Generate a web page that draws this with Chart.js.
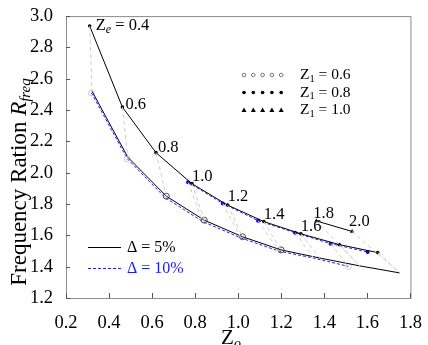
<!DOCTYPE html>
<html>
<head>
<meta charset="utf-8">
<script src="https://cdn.jsdelivr.net/npm/chart.js@4.4.0/dist/chart.umd.min.js"></script>
<style>
  html, body { margin: 0; padding: 0; background: #fff; }
  #wrap { width: 428px; height: 345px; }
</style>
</head>
<body>
<div id="wrap"><canvas id="chart" width="428" height="345"></canvas></div>
<script>
// upper curve, Delta = 5% (black, dots)
const zoUpper = [0.31, 0.462, 0.618, 0.785, 0.951, 1.119, 1.291, 1.469, 1.648];
const rUpper = [2.937, 2.419, 2.128, 1.930, 1.793, 1.688, 1.610, 1.541, 1.490];
// upper curve, Delta = 10% (blue, dots)
const zoUpperBlue = [0.767, 0.928, 1.092, 1.264, 1.429, 1.601];
const rUpperBlue = [1.939, 1.804, 1.694, 1.617, 1.547, 1.494];
// lower curve, Delta = 5% (black, open circles)
const zoLower = [0.321, 0.487, 0.666, 0.842, 1.020, 1.199, 1.38, 1.565, 1.751];
const rLower = [2.52, 2.099, 1.850, 1.697, 1.591, 1.507, 1.455, 1.405, 1.360];
// lower curve, Delta = 10% (blue dashed)
const zoLowerBlue = [0.318, 0.484, 0.660, 0.835, 1.012, 1.190, 1.35, 1.512];
const rLowerBlue = [2.51, 2.09, 1.842, 1.688, 1.584, 1.499, 1.455, 1.402];
// short segment, triangles
const zoTri = [1.363, 1.529];
const rTri = [1.692, 1.625];
// Ze labels
const zeLabels = ["0.4", "0.6", "0.8", "1.0", "1.2", "1.4", "1.6", "1.8", "2.0"];
const xTicks = [0.2, 0.4, 0.6, 0.8, 1.0, 1.2, 1.4, 1.6, 1.8];
const yTicks = [1.2, 1.4, 1.6, 1.8, 2.0, 2.2, 2.4, 2.6, 2.8, 3.0];

const SERIF = "'Liberation Serif', 'Times New Roman', serif";

function pts(xs, ys)
{
   return xs.map(function(x, i) { return { x: x, y: ys[i] }; });
}

// gray dashed connectors between matching points of upper and lower curves
function connectors()
{
   const sets = [];
   const add = function(a, b)
   {
      sets.push({
         data: [a, b],
         showLine: true,
         borderColor: "#cfcfcf",
         borderWidth: 1,
         borderDash: [4, 3],
         pointRadius: 0,
      });
   };
   zoUpper.forEach(function(x, i)
   {
      add({ x: x, y: rUpper[i] }, { x: zoLower[i], y: rLower[i] });
   });
   zoUpperBlue.forEach(function(x, i)
   {
      if (i + 3 < zoLowerBlue.length)
      {
         add({ x: x, y: rUpperBlue[i] }, { x: zoLowerBlue[i + 3], y: rLowerBlue[i + 3] });
      }
   });
   add({ x: zoTri[0], y: rTri[0] }, { x: zoLower[7], y: rLower[7] });
   add({ x: zoTri[1], y: rTri[1] }, { x: zoLower[8], y: rLower[8] });
   return sets;
}

const lowerRadius = zoLower.map(function(x, i) { return (i >= 2 && i <= 5) ? 3 : 0; });
const lowerBlueRadius = zoLowerBlue.map(function(x, i) { return (i <= 1 || i === zoLowerBlue.length - 1) ? 3 : 0; });

function subText(ctx, parts, x, y)
{
   // parts: [text, font, dy]
   parts.forEach(function(p)
   {
      ctx.font = p[1];
      ctx.fillText(p[0], x, y + p[2]);
      x += ctx.measureText(p[0]).width;
   });
   return x;
}

const framePlugin = {
   id: "frame",
   afterDatasetsDraw(chart)
   {
      const ctx = chart.ctx;
      const a = chart.chartArea;
      const xs = chart.scales.x;
      const ys = chart.scales.y;
      ctx.save();
      ctx.strokeStyle = "#8c8c8c";
      ctx.lineWidth = 1;
      ctx.strokeRect(a.left + 0.5, a.top + 0.5, a.right - a.left, a.bottom - a.top);
      ctx.strokeStyle = "#555";
      ctx.beginPath();
      xTicks.forEach(function(v)
      {
         const px = Math.round(xs.getPixelForValue(v)) + 0.5;
         ctx.moveTo(px, a.bottom);
         ctx.lineTo(px, a.bottom - 5);
      });
      yTicks.forEach(function(v)
      {
         const py = Math.round(ys.getPixelForValue(v)) + 0.5;
         ctx.moveTo(a.left, py);
         ctx.lineTo(a.left + 4, py);
      });
      ctx.stroke();

      // point labels
      ctx.fillStyle = "#000";
      ctx.textBaseline = "middle";
      const anchors = pts(zoUpper.slice(0, 7), rUpper.slice(0, 7)).concat(pts(zoTri, rTri));
      const offs = [[6, 0], [3, -2], [2, -5], [0, -7], [0, -8], [0, -7], [0, -7], [-3, -7], [-3, -10]];
      const lf = "16.5px " + SERIF;
      anchors.forEach(function(p, i)
      {
         const x = xs.getPixelForValue(p.x) + offs[i][0];
         const y = ys.getPixelForValue(p.y) + offs[i][1];
         if (i === 0)
         {
            subText(ctx, [["Z", lf, 0], ["e", "italic 12px " + SERIF, 4], [" = " + zeLabels[i], lf, 0]], x, y);
         }
         else
         {
            ctx.font = lf;
            ctx.fillText(zeLabels[i], x, y);
         }
      });

      // marker legend
      const rows = [["open", "0.6"], ["dot", "0.8"], ["tri", "1.0"]];
      rows.forEach(function(r, i)
      {
         const y = 75 + i * 17.5;
         for (let k = 0; k < 5; k++)
         {
            const x = 244 + k * 9.3;
            ctx.beginPath();
            if (r[0] === "open")
            {
               ctx.strokeStyle = "#777";
               ctx.arc(x, y, 1.8, 0, Math.PI * 2);
               ctx.stroke();
            }
            else if (r[0] === "dot")
            {
               ctx.fillStyle = "#000";
               ctx.arc(x, y, 1.8, 0, Math.PI * 2);
               ctx.fill();
            }
            else
            {
               ctx.fillStyle = "#000";
               ctx.moveTo(x, y - 2.5);
               ctx.lineTo(x + 2.5, y + 2);
               ctx.lineTo(x - 2.5, y + 2);
               ctx.closePath();
               ctx.fill();
            }
         }
         ctx.fillStyle = "#000";
         const f = "15.5px " + SERIF;
         subText(ctx, [["Z", f, 0], ["1", "10.5px " + SERIF, 4], [" = " + r[1], f, 0]], 300, y);
      });

      // line legend
      ctx.lineWidth = 1;
      ctx.strokeStyle = "#000";
      ctx.setLineDash([]);
      ctx.beginPath();
      ctx.moveTo(88, 247.5);
      ctx.lineTo(121, 247.5);
      ctx.stroke();
      ctx.strokeStyle = "#2020ff";
      ctx.setLineDash([3, 2]);
      ctx.beginPath();
      ctx.moveTo(88, 268.5);
      ctx.lineTo(121, 268.5);
      ctx.stroke();
      ctx.setLineDash([]);
      ctx.font = "16px " + SERIF;
      ctx.fillStyle = "#000";
      ctx.fillText("\u0394 = 5%", 127, 248);
      ctx.fillStyle = "#1a1aff";
      ctx.fillText("\u0394 = 10%", 127, 269);

      // axis titles
      ctx.fillStyle = "#000";
      ctx.textBaseline = "alphabetic";
      const xf = "21px " + SERIF;
      ctx.font = xf;
      const zw = ctx.measureText("Z").width;
      ctx.font = "italic 14px " + SERIF;
      const ow = ctx.measureText("o").width;
      subText(ctx, [["Z", xf, 0], ["o", "italic 14px " + SERIF, 4]], 231 - (zw + ow) / 2, 344);

      const tf = "23px " + SERIF;
      ctx.translate(26, 182);
      ctx.rotate(-Math.PI / 2);
      const main = "Frequency Ration ";
      ctx.font = tf;
      const mw = ctx.measureText(main).width;
      ctx.font = "italic 23px " + SERIF;
      const rw = ctx.measureText("R").width;
      ctx.font = "italic 15px " + SERIF;
      const sw = ctx.measureText("freq").width;
      subText(ctx, [[main, tf, 0], ["R", "italic 23px " + SERIF, 0], ["freq", "italic 15px " + SERIF, 4]], -(mw + rw + sw) / 2, 0);
      ctx.restore();
   }
};

const datasets = connectors().concat([
   {
      data: pts(zoLower, rLower),
      showLine: true,
      borderColor: "#000",
      borderWidth: 1,
      pointRadius: lowerRadius,
      pointBorderColor: "#444",
      pointBackgroundColor: "rgba(0,0,0,0)",
      pointBorderWidth: 1,
   },
   {
      data: pts(zoLowerBlue, rLowerBlue),
      showLine: true,
      borderColor: "#2020ff",
      borderWidth: 1,
      borderDash: [3, 2],
      pointRadius: lowerBlueRadius,
      pointBorderColor: "#c8c8e8",
      pointBackgroundColor: "rgba(0,0,0,0)",
      pointBorderWidth: 1,
   },
   {
      data: pts(zoUpper, rUpper),
      showLine: true,
      borderColor: "#000",
      borderWidth: 1,
      pointRadius: 1.8,
      pointBackgroundColor: "#000",
      pointBorderWidth: 0,
   },
   {
      data: pts(zoUpperBlue, rUpperBlue),
      showLine: true,
      borderColor: "#2020ff",
      borderWidth: 1,
      borderDash: [3, 2],
      pointRadius: 2,
      pointBackgroundColor: "#0000ff",
      pointBorderWidth: 0,
   },
   {
      data: pts(zoTri, rTri),
      showLine: true,
      borderColor: "#000",
      borderWidth: 1,
      pointStyle: "triangle",
      pointRadius: 2.5,
      pointBackgroundColor: "#000",
      pointBorderWidth: 0,
   },
]);

const ctx = document.getElementById("chart").getContext("2d");
new Chart(ctx,
{
   type: "scatter",
   data: { datasets: datasets },
   options: {
      responsive: false,
      animation: false,
      layout: { padding: { left: 0, right: 14, top: 13, bottom: 0 } },
      plugins: { legend: { display: false }, tooltip: { enabled: false } },
      scales: {
         x: {
            type: "linear",
            min: 0.2,
            max: 1.8,
            afterBuildTicks: function(scale) { scale.ticks = xTicks.map(function(v) { return { value: v }; }); },
            afterFit: function(scale) { scale.height = 47; },
            grid: { display: false },
            border: { display: false },
            ticks: {
               padding: 6,
               color: "#000",
               font: { family: SERIF, size: 18.5 },
               maxRotation: 0,
               callback: function(v) { return Number(v).toFixed(1); },
            },
         },
         y: {
            type: "linear",
            min: 1.2,
            max: 3.0,
            afterBuildTicks: function(scale) { scale.ticks = yTicks.map(function(v) { return { value: v }; }); },
            afterFit: function(scale) { scale.width = 66; },
            grid: { display: false },
            border: { display: false },
            ticks: {
               padding: 5,
               color: "#000",
               font: { family: SERIF, size: 18.5 },
               callback: function(v) { return Number(v).toFixed(1); },
            },
         },
      },
   },
   plugins: [framePlugin],
});
</script>
</body>
</html>
